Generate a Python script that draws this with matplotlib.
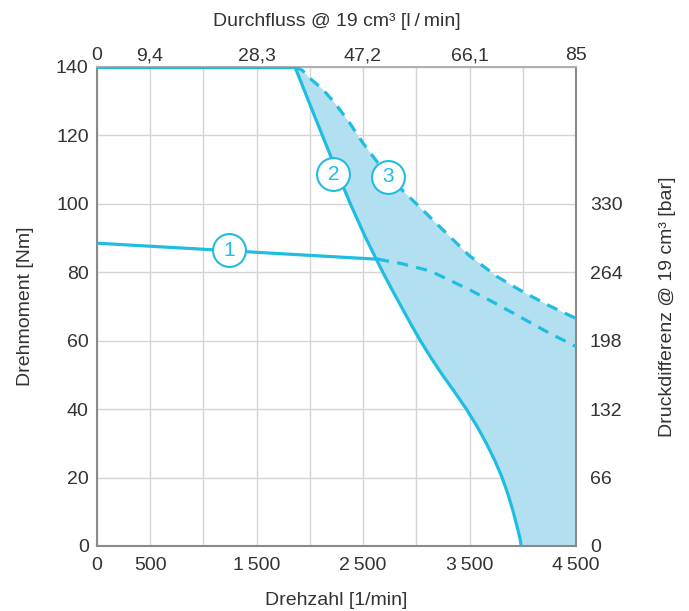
import matplotlib.pyplot as plt
from matplotlib.ticker import FuncFormatter

# Drehzahl [1/min] / Drehmoment [Nm]
limit_rpm = [0, 1860]
limit_nm = [140, 140]

curve1_rpm = [0, 2640]
curve1_nm = [88.5, 83.8]
curve1_dash_rpm = [2640, 2851, 3129, 3505, 3750, 4000, 4250, 4500]
curve1_dash_nm = [83.8, 82.6, 80.4, 74.8, 70.8, 66.5, 62.2, 58.3]

curve2_rpm = [1860, 1988, 2117, 2247, 2380, 2525, 2685, 2770, 2858, 2946, 3038, 3138, 3245, 3360,
              3470, 3570, 3658, 3737, 3806, 3862, 3910, 3952, 3975, 3985]
curve2_nm = [140, 130, 120, 110, 100, 90, 80, 75, 70, 65, 60, 55, 50, 45,
             40, 35, 30, 25, 20, 15, 10, 5, 2, 0]

curve3_rpm = [1860, 1930, 2000, 2120, 2236, 2370, 2500, 2735, 3000, 3250, 3500, 3760, 4000, 4250, 4500]
curve3_nm = [140, 139, 136.7, 133.5, 129.4, 123.8, 117.7, 108, 100, 92.4, 84.8, 78.7, 74.3, 70.2, 66.5]

labels = ['1', '2', '3']
label_rpm = [1243, 2221, 2738]
label_nm = [86.5, 108.6, 107.9]

x_ticks = [0, 500, 1500, 2500, 3500, 4500]
x_grid = [0, 500, 1000, 1500, 2000, 2500, 3000, 3500, 4000, 4500]
flow_ticks = [0, 9.4, 28.3, 47.2, 66.1, 85]
y_ticks = [0, 20, 40, 60, 80, 100, 120, 140]
bar_ticks = [0, 66, 132, 198, 264, 330]

cyan = '#1fbde1'
fill = '#b2e0f0'
txt = '#333333'
plt.rcParams['font.family'] = ['Liberation Sans', 'DejaVu Sans']
plt.rcParams['font.size'] = 14

fig = plt.figure(figsize=(6.89, 6.11), dpi=100)
ax = fig.add_axes([0.1408, 0.1064, 0.6952, 0.784])

ax.set_xlim(0, 4500)
ax.set_ylim(0, 140)
ax.set_xticks(x_grid)
ax.set_xticklabels([f'{v:,}'.replace(',', '\u2009') if v in x_ticks else '' for v in x_grid])
ax.set_yticks(y_ticks)
ax.grid(True, color='#d4d4d4', lw=1)
ax.set_axisbelow(True)
ax.tick_params(length=0, colors=txt, labelsize=14)
ax.tick_params(axis='x', pad=8)
ax.tick_params(axis='y', pad=6)
for s in ax.spines.values():
    s.set_color('#8a8a8a')
    s.set_linewidth(1.5)
ax.spines['top'].set_color('#b0b0b0')

# shaded area between curve 2 and curve 3
ax.fill(curve3_rpm + [4500, 3985] + curve2_rpm[::-1],
        curve3_nm + [0, 0] + curve2_nm[::-1], color=fill, lw=0, zorder=1)

lw = 2.3
dash = (0, (3.5, 2.6))
ax.plot(limit_rpm, limit_nm, color=cyan, lw=lw, zorder=3, solid_capstyle='butt')
ax.plot(curve1_rpm, curve1_nm, color=cyan, lw=lw, zorder=3)
ax.plot(curve1_dash_rpm, curve1_dash_nm, color=cyan, lw=lw, ls=dash, zorder=3)
ax.plot(curve2_rpm, curve2_nm, color=cyan, lw=lw, zorder=3)
ax.plot(curve3_rpm, curve3_nm, color=cyan, lw=lw, ls=dash, zorder=3)

ax.scatter(label_rpm, label_nm, s=560, facecolor='white', edgecolor=cyan, lw=1.5, zorder=4)
for t, xv, yv in zip(labels, label_rpm, label_nm):
    ax.text(xv, yv, t, color=cyan, ha='center', va='center', fontsize=15, zorder=5)

ax.set_xlabel('Drehzahl [1/min]', color=txt, labelpad=13)
ax.set_ylabel('Drehmoment [Nm]', color=txt, labelpad=16)

# flow rate on top, pressure difference on the right
top = ax.secondary_xaxis('top', functions=(lambda r: r * 85 / 4500, lambda f: f * 4500 / 85))
top.set_xticks(flow_ticks)
top.xaxis.set_major_formatter(FuncFormatter(lambda v, p: f'{v:g}'.replace('.', ',')))
top.tick_params(length=0, pad=2, colors=txt, labelsize=14)
top.spines['top'].set_visible(False)
top.set_xlabel('Durchfluss @ 19 cm³ [l\u2009/\u2009min]', color=txt, labelpad=15)

right = ax.secondary_yaxis('right', functions=(lambda n: n * 3.3, lambda b: b / 3.3))
right.set_yticks(bar_ticks)
right.tick_params(length=0, pad=10, colors=txt, labelsize=14)
right.spines['right'].set_visible(False)
right.set_ylabel('Druckdifferenz @ 19 cm³ [bar]', color=txt, labelpad=26)

fig.savefig('out.png', dpi=100)
